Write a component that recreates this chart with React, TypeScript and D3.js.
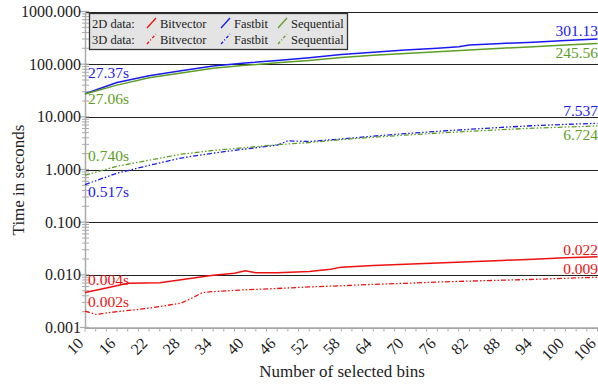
import React, { useRef, useEffect } from "react";
import * as d3 from "d3";

const bitvector2dBins = [10, 14, 18, 24, 28, 34, 38, 40, 42, 46, 52, 56, 58, 64, 70, 76, 82, 88, 94, 100, 106];
const bitvector2dTimes = [0.0046, 0.0056, 0.0069, 0.0071, 0.0081, 0.0098, 0.0107, 0.0119, 0.0109, 0.011, 0.0116, 0.0128, 0.014, 0.015, 0.0158, 0.0168, 0.0178, 0.0188, 0.0198, 0.021, 0.022];

const bitvector3dBins = [10, 12, 16, 20, 24, 28, 30, 32, 34, 40, 46, 52, 58, 64, 70, 76, 82, 88, 94, 100, 106];
const bitvector3dTimes = [0.00204, 0.00177, 0.002, 0.0022, 0.0025, 0.0029, 0.0036, 0.0046, 0.0048, 0.0052, 0.0055, 0.0059, 0.0062, 0.0066, 0.0069, 0.0073, 0.0076, 0.0079, 0.0082, 0.0086, 0.009];

const fastbit2dBins = [10, 16, 22, 28, 34, 40, 46, 52, 58, 64, 70, 76, 80, 82, 88, 94, 100, 106];
const fastbit2dTimes = [27.37, 45, 60, 75, 92, 105, 118, 133, 152, 168, 185, 200, 215, 232, 248, 262, 280, 301.13];

const fastbit3dBins = [10, 16, 22, 28, 34, 40, 46, 48, 52, 58, 64, 70, 76, 82, 88, 94, 100, 106];
const fastbit3dTimes = [0.517, 0.85, 1.2, 1.65, 2.05, 2.45, 2.9, 3.5, 3.4, 3.8, 4.3, 4.8, 5.3, 5.8, 6.3, 6.8, 7.2, 7.537];

const sequential2dBins = [10, 16, 22, 28, 34, 40, 46, 52, 58, 64, 70, 76, 82, 88, 94, 100, 106];
const sequential2dTimes = [27.06, 40, 55, 68, 84, 95, 106, 118, 134, 147, 160, 172, 185, 200, 215, 230, 245.56];

const sequential3dBins = [10, 16, 22, 28, 34, 40, 46, 52, 58, 64, 70, 76, 82, 88, 94, 100, 106];
const sequential3dTimes = [0.78, 1.15, 1.5, 1.95, 2.3, 2.6, 2.95, 3.25, 3.7, 4.1, 4.5, 4.9, 5.3, 5.7, 6.1, 6.4, 6.724];

const yTickValues = [0.001, 0.01, 0.1, 1, 10, 100, 1000];
const xTickLabels = [10, 16, 22, 28, 34, 40, 46, 52, 58, 64, 70, 76, 82, 88, 94, 100, 106];
const methodNames = ["Bitvector", "Fastbit", "Sequential"];

const RED = "#ee1111";
const BLUE = "#1a1aee";
const GREEN = "#5e9e26";
const DOTS = "5,2,1.5,2,1.5,2";
const FONT = "Liberation Serif";

type Series = {
  bins: number[];
  times: number[];
  color: string;
  dotted: boolean;
  startLabel: string;
  endLabel: string;
  startDy: number;
  endDy: number;
};

const series: Series[] = [
  { bins: bitvector2dBins, times: bitvector2dTimes, color: RED, dotted: false, startLabel: "0.004s", endLabel: "0.022", startDy: -8, endDy: -2 },
  { bins: bitvector3dBins, times: bitvector3dTimes, color: RED, dotted: true, startLabel: "0.002s", endLabel: "0.009", startDy: -4, endDy: -3 },
  { bins: fastbit2dBins, times: fastbit2dTimes, color: BLUE, dotted: false, startLabel: "27.37s", endLabel: "301.13", startDy: -16, endDy: -3 },
  { bins: fastbit3dBins, times: fastbit3dTimes, color: BLUE, dotted: true, startLabel: "0.517s", endLabel: "7.537", startDy: 12, endDy: -7 },
  { bins: sequential2dBins, times: sequential2dTimes, color: GREEN, dotted: false, startLabel: "27.06s", endLabel: "245.56", startDy: 10, endDy: 14 },
  { bins: sequential3dBins, times: sequential3dTimes, color: GREEN, dotted: true, startLabel: "0.740s", endLabel: "6.724", startDy: -14, endDy: 14 },
];

const App = () => {
  const chartRef = useRef<SVGSVGElement>(null);

  useEffect(() => {
    if (!chartRef.current) return;
    const svg = d3.select(chartRef.current);
    svg.selectAll("*").remove();

    const width = 598;
    const height = 385;
    const margin = { top: 11.5, right: 0.5, bottom: 57.5, left: 85 };

    const x = d3.scaleLinear().domain([10, 106]).range([margin.left, width - margin.right]);
    const y = d3.scaleLog().domain([0.001, 1000]).range([height - margin.bottom, margin.top]);

    // decade grid lines
    svg.append("g")
      .selectAll("line")
      .data(yTickValues)
      .join("line")
      .attr("x1", margin.left)
      .attr("x2", width)
      .attr("y1", d => Math.round(y(d)) + 0.5)
      .attr("y2", d => Math.round(y(d)) + 0.5)
      .attr("stroke", d => (d === 0.001 ? "#999" : "#222"))
      .attr("stroke-width", 1.2);

    // y axis: gray line with minor ticks crossing it
    const yAxis = svg.append("g");
    yAxis.append("line")
      .attr("x1", margin.left + 0.5).attr("x2", margin.left + 0.5)
      .attr("y1", margin.top).attr("y2", height - margin.bottom)
      .attr("stroke", "#aaa").attr("stroke-width", 1.5);
    const minor = y.ticks().filter(t => !yTickValues.includes(t));
    yAxis.selectAll("line.minor")
      .data(minor)
      .join("line")
      .attr("class", "minor")
      .attr("x1", margin.left - 3).attr("x2", margin.left + 4)
      .attr("y1", d => y(d)).attr("y2", d => y(d))
      .attr("stroke", "#aaa").attr("stroke-width", 1);
    yAxis.selectAll("line.major")
      .data(yTickValues)
      .join("line")
      .attr("class", "major")
      .attr("x1", margin.left - 5).attr("x2", margin.left + 4)
      .attr("y1", d => y(d)).attr("y2", d => y(d))
      .attr("stroke", "#aaa").attr("stroke-width", 1.2);
    yAxis.selectAll("text")
      .data(yTickValues)
      .join("text")
      .attr("x", margin.left - 4)
      .attr("y", d => y(d))
      .attr("dy", "0.35em")
      .attr("text-anchor", "end")
      .style("font-size", "16px")
      .attr("fill", "#222")
      .text(d => d3.format(".3f")(d));

    // x axis
    const xAxisY = height - margin.bottom;
    const xAxis = svg.append("g");
    xAxis.append("line")
      .attr("x1", margin.left).attr("x2", width)
      .attr("y1", xAxisY + 0.5).attr("y2", xAxisY + 0.5)
      .attr("stroke", "#aaa").attr("stroke-width", 1.5);
    xAxis.selectAll("line.tick")
      .data(d3.range(10, 107, 2))
      .join("line")
      .attr("class", "tick")
      .attr("x1", d => x(d)).attr("x2", d => x(d))
      .attr("y1", xAxisY).attr("y2", xAxisY + 4)
      .attr("stroke", "#aaa").attr("stroke-width", 1);
    xAxis.selectAll("text")
      .data(xTickLabels)
      .join("text")
      .attr("transform", d => `translate(${x(d) - 4.5},${xAxisY + 13}) rotate(-45)`)
      .attr("text-anchor", "end")
      .attr("dy", "0.35em")
      .style("font-size", "16px")
      .attr("fill", "#222")
      .text(d => d);

    // axis titles
    svg.append("text")
      .attr("x", 342)
      .attr("y", 377)
      .attr("text-anchor", "middle")
      .style("font-size", "17px")
      .attr("fill", "#222")
      .text("Number of selected bins");
    svg.append("text")
      .attr("transform", "translate(24,180) rotate(-90)")
      .attr("text-anchor", "middle")
      .style("font-size", "17px")
      .attr("fill", "#222")
      .text("Time in seconds");

    // lines
    const line = d3.line<[number, number]>()
      .x(d => x(d[0]))
      .y(d => y(d[1]));

    series.forEach(s => {
      const pts = s.bins.map((b, i) => [b, s.times[i]] as [number, number]);
      svg.append("path")
        .datum(pts)
        .attr("fill", "none")
        .attr("stroke", s.color)
        .attr("stroke-width", s.dotted ? 1.3 : 1.5)
        .attr("stroke-dasharray", s.dotted ? DOTS : null)
        .attr("d", line);
    });

    // start / end labels
    series.forEach(s => {
      const first = s.times[0];
      const last = s.times[s.times.length - 1];
      svg.append("text")
        .attr("x", margin.left + 3)
        .attr("y", y(first) + s.startDy)
        .style("font-size", "15.5px")
        .attr("fill", s.color)
        .text(s.startLabel);
      svg.append("text")
        .attr("x", width)
        .attr("y", y(last) + s.endDy)
        .attr("text-anchor", "end")
        .style("font-size", "15.5px")
        .attr("fill", s.color)
        .text(s.endLabel);
    });

    // legend
    const legend = svg.append("g");
    legend.append("rect")
      .attr("x", 89.5).attr("y", 13.5)
      .attr("width", 258).attr("height", 36)
      .attr("fill", "#e4e4e4")
      .attr("stroke", "#333")
      .attr("stroke-width", 1.3);
    const rows = [
      { label: "2D data:", dotted: false },
      { label: "3D data:", dotted: true },
    ];
    const colors = [RED, BLUE, GREEN];
    const swatchX = [147, 221, 278];
    rows.forEach((r, ri) => {
      const base = 28 + ri * 16;
      legend.append("text")
        .attr("x", 92).attr("y", base)
        .style("font-size", "12.5px").attr("fill", "#222")
        .text(r.label);
      methodNames.forEach((m, mi) => {
        legend.append("line")
          .attr("x1", swatchX[mi]).attr("y1", base)
          .attr("x2", swatchX[mi] + 9).attr("y2", base - 10)
          .attr("stroke", colors[mi])
          .attr("stroke-width", 1.3)
          .attr("stroke-dasharray", r.dotted ? "3,2,1,2" : null);
        legend.append("text")
          .attr("x", swatchX[mi] + 13).attr("y", base)
          .style("font-size", "12.5px").attr("fill", "#222")
          .text(m);
      });
    });
  }, []);

  return (
    <svg
      ref={chartRef}
      width="598"
      height="385"
      style={{ position: "absolute", left: 0, top: 0, background: "#fff", fontFamily: FONT }}
    ></svg>
  );
};

export default App;
